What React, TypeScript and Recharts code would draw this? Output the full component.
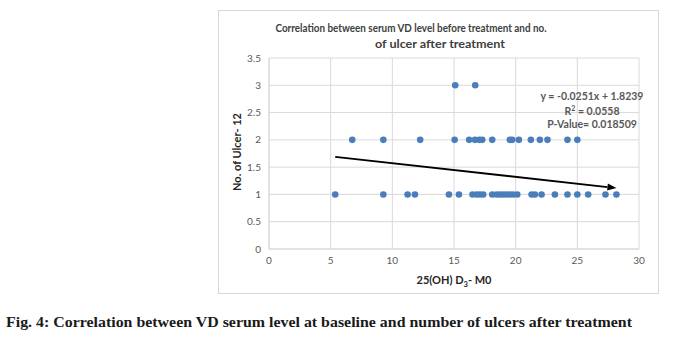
import { ScatterChart, Scatter, XAxis, YAxis, CartesianGrid, ReferenceLine } from 'recharts';

// 25(OH) D3 at M0 for patients, grouped by no. of ulcers after treatment
const ulcerOneX = [
  5.37, 9.27, 11.24, 11.83, 14.59, 15.4, 16.5, 16.83, 17.1, 17.37, 18.1, 18.45, 18.72, 18.99,
  19.26, 19.53, 19.8, 20.13, 21.29, 21.56, 22.1, 23.18, 24.2, 25.0, 25.88, 27.28, 28.17,
];
const ulcerTwoX = [
  6.75, 9.27, 12.26, 15.05, 16.23, 16.7, 17.05, 17.29, 18.1, 19.53, 19.72, 20.26, 21.23, 21.96,
  22.58, 24.2, 25.0,
];
const ulcerThreeX = [15.1, 16.72];

const xTicks = [0, 5, 10, 15, 20, 25, 30];
const yTicks = [0, 0.5, 1, 1.5, 2, 2.5, 3, 3.5];

// Excel linear trendline
const slope = -0.0251;
const intercept = 1.8239;
const trendStart = 5.37;
const trendEnd = 28.17;

const points = [
  ...ulcerOneX.map((x) => ({ x, y: 1 })),
  ...ulcerTwoX.map((x) => ({ x, y: 2 })),
  ...ulcerThreeX.map((x) => ({ x, y: 3 })),
];

const trendSegment = [
  { x: trendStart, y: slope * trendStart + intercept },
  { x: trendEnd, y: slope * trendEnd + intercept },
];

const tickStyle = { fontSize: 10, fill: '#595959', fontFamily: 'Lato, sans-serif' };

function Dot(props: any) {
  return <circle cx={props.cx} cy={props.cy} r={3.3} fill="#4a7ebb" />;
}

function TrendArrow(props: any) {
  const { x1, y1, x2, y2 } = props;
  const ang = Math.atan2(y2 - y1, x2 - x1);
  const len = 9;
  const half = 3.5;
  const bx = x2 - len * Math.cos(ang);
  const by = y2 - len * Math.sin(ang);
  const px = -Math.sin(ang) * half;
  const py = Math.cos(ang) * half;
  return (
    <g>
      <line x1={x1} y1={y1} x2={bx} y2={by} stroke="#000" strokeWidth={1.8} />
      <polygon points={`${x2},${y2} ${bx + px},${by + py} ${bx - px},${by - py}`} fill="#000" />
    </g>
  );
}

export default function App() {
  return (
    <div style={{ position: 'absolute', left: 0, top: 0, width: 680, height: 338, background: '#fff' }}>
      <div
        style={{
          position: 'absolute',
          left: 218,
          top: 10,
          width: 441,
          height: 284,
          border: '1px solid #d9d9d9',
          boxSizing: 'border-box',
        }}
      />
      <div style={{ position: 'absolute', left: 0, top: 0 }}>
        <ScatterChart width={680} height={338} margin={{ top: 58, right: 41, bottom: 59, left: 229 }}>
          <CartesianGrid stroke="#d9d9d9" />
          <XAxis
            type="number"
            dataKey="x"
            domain={[0, 30]}
            ticks={xTicks}
            height={30}
            tickLine={false}
            axisLine={{ stroke: '#d9d9d9' }}
            tick={tickStyle}
          />
          <YAxis
            type="number"
            dataKey="y"
            domain={[0, 3.5]}
            ticks={yTicks}
            width={40}
            tickLine={false}
            axisLine={{ stroke: '#d9d9d9' }}
            tick={tickStyle}
          />
          <Scatter data={points} shape={Dot} isAnimationActive={false} />
          <ReferenceLine segment={trendSegment} shape={TrendArrow} />
        </ScatterChart>
      </div>
      <svg
        width={680}
        height={338}
        style={{ position: 'absolute', left: 0, top: 0, pointerEvents: 'none' }}
      >
        <g fontFamily="Lato, sans-serif" fontWeight="bold">
          <text x={411} y={31.5} textAnchor="middle" fontSize={11.5} fill="#404040" textLength={271} lengthAdjust="spacingAndGlyphs">
            Correlation between serum VD level before treatment and no.
          </text>
          <text x={440} y={48} textAnchor="middle" fontSize={11.5} fill="#404040" textLength={130} lengthAdjust="spacingAndGlyphs">
            of ulcer after treatment
          </text>
          <g fill="#595959" fontSize={10.5} textAnchor="middle">
            <text x={592} y={99.5}>y = -0.0251x + 1.8239</text>
            <text x={592} y={114.5}>
              R<tspan fontSize={7} dy={-4}>2</tspan>
              <tspan dy={4}> = 0.0558</tspan>
            </text>
            <text x={592} y={128}>P-Value= 0.018509</text>
          </g>
          <text
            x={0}
            y={0}
            transform="translate(241 152) rotate(-90)"
            textAnchor="middle"
            fontSize={11}
            fill="#262626"
          >
            No. of Ulcer- 12
          </text>
          <text x={454} y={284} textAnchor="middle" fontSize={11} fill="#262626">
            25(OH) D<tspan fontSize={7.5} dy={2.5}>3</tspan>
            <tspan dy={-2.5}>- M0</tspan>
          </text>
        </g>
        <text
          x={6}
          y={327}
          fontFamily="'Liberation Serif', 'Times New Roman', serif"
          fontWeight="bold"
          fontSize={15}
          fill="#1a1a1a"
          textLength={626}
          lengthAdjust="spacingAndGlyphs"
        >
          Fig. 4: Correlation between VD serum level at baseline and number of ulcers after treatment
        </text>
      </svg>
    </div>
  );
}
